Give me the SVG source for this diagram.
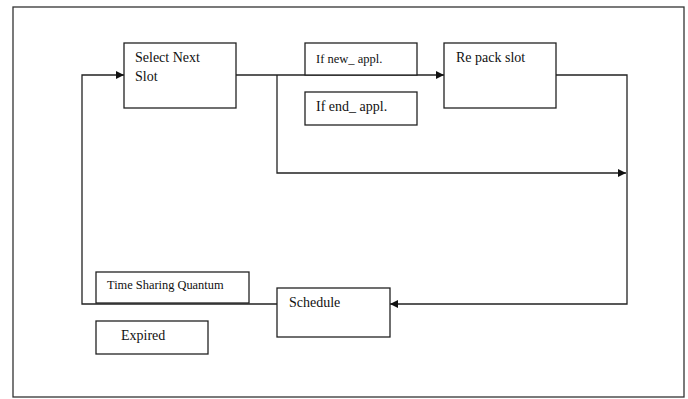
<svg xmlns="http://www.w3.org/2000/svg" width="688" height="399" viewBox="0 0 688 399">
<style>
.box{fill:#fff;stroke:#222;stroke-width:1.3}
.ln{fill:none;stroke:#222;stroke-width:1.3}
.t{font-family:'Liberation Serif','DejaVu Serif',serif;fill:#111;font-size:14px}
</style>
<defs>
<marker id="ah" viewBox="0 0 10 10" refX="10" refY="5" markerWidth="8" markerHeight="8" markerUnits="userSpaceOnUse" orient="auto">
<path d="M0,0 L10,5 L0,10 Z" fill="#111"/>
</marker>
</defs>
<rect x="0" y="0" width="688" height="399" fill="#fff"/>
<rect id="frame" x="13" y="7" width="671" height="390" fill="none" stroke="#333" stroke-width="1.3"/>
<g id="connectors">
<path class="ln" d="M236,75 H444" marker-end="url(#ah)"/>
<path class="ln" d="M277,75 V173 H626" marker-end="url(#ah)"/>
<path class="ln" d="M556,75 H627 V304 H390" marker-end="url(#ah)"/>
<path class="ln" d="M277,304 H82 V75 H124" marker-end="url(#ah)"/>
</g>
<g id="select">
<rect class="box" x="124" y="43" width="112" height="65"/>
<text class="t" x="135" y="62" font-family="Liberation Serif, serif">Select Next</text>
<text class="t" x="135" y="81" font-family="Liberation Serif, serif">Slot</text>
</g>
<g id="ifnew">
<rect class="box" x="305" y="43" width="112" height="32"/>
<text class="t" x="316" y="63" font-family="Liberation Serif, serif" style="font-size:12.5px">If new_ appl.</text>
</g>
<g id="ifend">
<rect class="box" x="305" y="92" width="112" height="33"/>
<text class="t" x="316" y="111" font-family="Liberation Serif, serif">If end_ appl.</text>
</g>
<g id="repack">
<rect class="box" x="444" y="43" width="112" height="65"/>
<text class="t" x="456" y="62" font-family="Liberation Serif, serif">Re pack slot</text>
</g>
<g id="schedule">
<rect class="box" x="277" y="288" width="113" height="49"/>
<text class="t" x="289" y="307" font-family="Liberation Serif, serif">Schedule</text>
</g>
<g id="tsq">
<rect class="box" x="96" y="272" width="153" height="31"/>
<text class="t" x="107" y="289" font-family="Liberation Serif, serif" style="font-size:12.4px">Time Sharing Quantum</text>
</g>
<g id="expired">
<rect class="box" x="96" y="321" width="112" height="33"/>
<text class="t" x="121" y="340" font-family="Liberation Serif, serif">Expired</text>
</g>
</svg>
